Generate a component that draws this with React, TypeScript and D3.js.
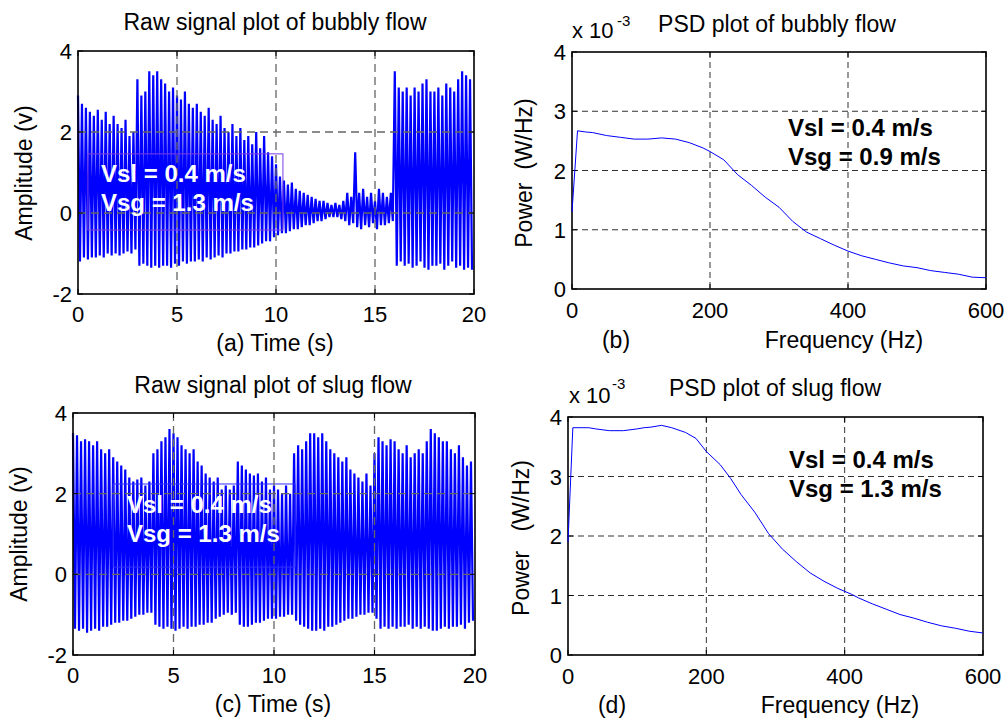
import * as d3 from "d3";
import { useEffect, useRef } from "react";

// raw traces: one peak and one trough per TIME_STEP
const TIME_STEP = 0.2;

const BUBBLY_PEAKS = [
  2.9, 2.7, 2.6, 2.5, 2.4, 2.55, 2.3, 2.5, 2.2, 2.4,
  2.2, 2.1, 2.3, 1.9, 2.0, 3.3, 2.9, 3.0, 3.5, 3.4,
  3.5, 3.3, 3.2, 3.0, 3.1, 2.9, 2.8, 3.0, 2.7, 2.6,
  2.7, 2.5, 2.4, 2.6, 2.3, 2.2, 2.4, 2.1, 2.0, 2.2,
  1.9, 2.1, 1.8, 1.9, 1.7, 2.0, 1.6, 1.9, 1.5, 1.4,
  1.2, 0.9, 0.8, 0.7, 0.75, 0.6, 0.55, 0.5, 0.45, 0.4,
  0.35, 0.3, 0.3, 0.25, 0.2, 0.25, 0.2, 0.3, 0.5, 0.4,
  1.5, 0.5, 0.6, 0.4, 0.5, 0.3, 0.6, 0.5, 0.4, 0.5,
  3.5, 3.1, 3.0, 3.1, 2.9, 3.1, 3.0, 3.2, 3.3, 3.0,
  3.0, 3.1, 2.9, 3.2, 3.1, 3.0, 3.3, 3.5, 3.4, 3.3,
];
const BUBBLY_TROUGHS = [
  -1.2, -1.1, -1.15, -1.1, -1.1, -1.05, -1.1, -1.0, -1.05, -1.0,
  -1.05, -1.0, -0.95, -1.0, -0.9, -1.3, -1.25, -1.3, -1.35, -1.3,
  -1.35, -1.3, -1.3, -1.35, -1.25, -1.3, -1.2, -1.25, -1.2, -1.2,
  -1.15, -1.2, -1.1, -1.15, -1.1, -1.05, -1.1, -1.0, -1.0, -0.95,
  -0.95, -0.9, -0.9, -0.85, -0.85, -0.8, -0.75, -0.7, -0.7, -0.6,
  -0.55, -0.5, -0.5, -0.45, -0.4, -0.4, -0.35, -0.3, -0.3, -0.25,
  -0.2, -0.2, -0.15, -0.1, -0.1, -0.1, -0.15, -0.2, -0.3, -0.25,
  -0.35, -0.4, -0.3, -0.35, -0.25, -0.4, -0.3, -0.3, -0.25, -0.2,
  -1.3, -1.2, -1.3, -1.25, -1.35, -1.3, -1.2, -1.35, -1.4, -1.3,
  -1.3, -1.25, -1.4, -1.3, -1.2, -1.35, -1.3, -1.4, -1.35, -1.4,
];

const SLUG_PEAKS = [
  3.5, 3.45, 3.3, 3.35, 3.3, 3.2, 3.3, 3.1, 3.0, 3.1,
  2.9, 2.8, 2.7, 2.6, 2.4, 2.3, 2.35, 2.4, 2.2, 2.3,
  3.0, 3.1, 3.3, 3.4, 3.6, 3.5, 3.4, 3.2, 3.1, 3.0,
  3.1, 2.8, 2.7, 2.5, 2.4, 2.3, 2.4, 2.1, 2.2, 2.1,
  2.2, 2.8, 2.7, 2.6, 2.5, 2.45, 2.5, 2.3, 2.4, 2.1,
  2.2, 2.1, 2.0, 2.2, 2.0, 3.0, 3.2, 3.1, 3.3, 3.5,
  3.5, 3.4, 3.5, 3.3, 3.1, 3.0, 2.9, 2.8, 2.9, 2.6,
  2.5, 2.4, 2.3, 2.5, 2.2, 3.0, 3.4, 3.3, 3.2, 3.35,
  3.3, 3.1, 3.0, 3.2, 2.9, 3.0, 3.1, 3.0, 3.3, 3.6,
  3.5, 3.4, 3.3, 3.3, 3.1, 3.0, 3.2, 2.9, 2.7, 2.8,
];
const SLUG_TROUGHS = [
  -1.35, -1.4, -1.35, -1.45, -1.4, -1.35, -1.4, -1.3, -1.3, -1.25,
  -1.2, -1.2, -1.15, -1.15, -1.1, -1.05, -1.0, -1.0, -0.95, -0.95,
  -1.25, -1.3, -1.35, -1.3, -1.35, -1.4, -1.35, -1.3, -1.35, -1.3,
  -1.3, -1.25, -1.25, -1.2, -1.2, -1.1, -1.05, -1.0, -0.95, -1.0,
  -0.95, -1.25, -1.3, -1.3, -1.25, -1.2, -1.2, -1.15, -1.1, -1.1,
  -1.1, -1.05, -1.05, -1.0, -1.0, -1.15, -1.25, -1.3, -1.35, -1.4,
  -1.4, -1.35, -1.4, -1.3, -1.3, -1.25, -1.2, -1.15, -1.1, -1.1,
  -1.05, -1.0, -1.0, -0.95, -0.95, -1.1, -1.35, -1.3, -1.35, -1.3,
  -1.35, -1.3, -1.3, -1.25, -1.35, -1.3, -1.35, -1.3, -1.35, -1.4,
  -1.4, -1.35, -1.3, -1.35, -1.3, -1.3, -1.25, -1.35, -1.2, -1.15,
];

// PSD curves, power in units of 1e-3 W/Hz
const BUBBLY_FREQ = [0, 8, 20, 30, 50, 70, 90, 110, 130, 150, 170, 190, 200, 220, 240, 260, 280, 300, 320, 340, 360, 380, 400, 420, 440, 460, 480, 500, 520, 540, 560, 580, 600];
const BUBBLY_PSD = [1.3, 2.67, 2.65, 2.64, 2.59, 2.56, 2.53, 2.53, 2.55, 2.53, 2.47, 2.38, 2.32, 2.18, 1.93, 1.75, 1.55, 1.38, 1.14, 0.96, 0.85, 0.74, 0.64, 0.56, 0.5, 0.44, 0.39, 0.36, 0.31, 0.28, 0.25, 0.2, 0.19];

const SLUG_FREQ = [0, 7, 30, 40, 60, 80, 100, 110, 120, 135, 150, 170, 185, 200, 220, 235, 250, 270, 290, 310, 330, 350, 370, 390, 410, 420, 440, 460, 480, 500, 520, 540, 560, 580, 600];
const SLUG_PSD = [1.9, 3.82, 3.82, 3.8, 3.77, 3.77, 3.8, 3.82, 3.83, 3.86, 3.82, 3.74, 3.64, 3.42, 3.2, 2.97, 2.7, 2.4, 2.04, 1.78, 1.57, 1.38, 1.24, 1.12, 1.02, 0.96, 0.86, 0.77, 0.68, 0.62, 0.55, 0.49, 0.45, 0.4, 0.37];

const TIME_TICKS = [0, 5, 10, 15, 20];
const AMP_TICKS = [-2, 0, 2, 4];
const FREQ_TICKS = [0, 200, 400, 600];
const PSD_TICKS = [0, 1, 2, 3, 4];

const FONT = "'Liberation Sans', Arial, Helvetica, sans-serif";
const LABEL = 23;
const TICK = 22;
const NOTE = 24;

type Sel = d3.Selection<SVGGElement, unknown, null, undefined>;
type Box = { left: number; right: number; top: number; bottom: number };

function addText(
  g: Sel,
  x: number,
  y: number,
  str: string,
  opts: { size?: number; anchor?: string; weight?: string; fill?: string; rotate?: boolean } = {},
) {
  const t = g
    .append("text")
    .attr("x", x)
    .attr("y", y)
    .attr("text-anchor", opts.anchor ?? "middle")
    .attr("font-family", FONT)
    .attr("font-size", opts.size ?? LABEL)
    .attr("font-weight", opts.weight ?? "normal")
    .attr("fill", opts.fill ?? "#000")
    .text(str);
  if (opts.rotate) t.attr("transform", `rotate(-90,${x},${y})`);
  return t;
}

function drawFrame(
  g: Sel,
  x: d3.ScaleLinear<number, number>,
  y: d3.ScaleLinear<number, number>,
  xTicks: number[],
  yTicks: number[],
  grid: { color: string; dash: string; width: number },
  xLabelDy: number,
) {
  const [x0, x1] = x.range();
  const [y0, y1] = y.range(); // y0 = bottom
  const gl = g.append("g");
  xTicks.slice(1, -1).forEach((t) =>
    gl.append("line")
      .attr("x1", x(t)).attr("x2", x(t)).attr("y1", y1).attr("y2", y0)
      .attr("stroke", grid.color).attr("stroke-width", grid.width)
      .attr("stroke-dasharray", grid.dash),
  );
  yTicks.slice(1, -1).forEach((t) =>
    gl.append("line")
      .attr("x1", x0).attr("x2", x1).attr("y1", y(t)).attr("y2", y(t))
      .attr("stroke", grid.color).attr("stroke-width", grid.width)
      .attr("stroke-dasharray", grid.dash),
  );

  const tk = 5;
  xTicks.forEach((t) => {
    g.append("line").attr("x1", x(t)).attr("x2", x(t)).attr("y1", y0).attr("y2", y0 - tk).attr("stroke", "#000");
    g.append("line").attr("x1", x(t)).attr("x2", x(t)).attr("y1", y1).attr("y2", y1 + tk).attr("stroke", "#000");
    addText(g, x(t), y0 + xLabelDy, `${t}`, { size: TICK });
  });
  yTicks.forEach((t) => {
    g.append("line").attr("x1", x0).attr("x2", x0 + tk).attr("y1", y(t)).attr("y2", y(t)).attr("stroke", "#000");
    g.append("line").attr("x1", x1).attr("x2", x1 - tk).attr("y1", y(t)).attr("y2", y(t)).attr("stroke", "#000");
    addText(g, x0 - 6, y(t) + 8, `${t}`, { anchor: "end", size: TICK });
  });

  g.append("rect")
    .attr("x", x0).attr("y", y1)
    .attr("width", x1 - x0).attr("height", y0 - y1)
    .attr("fill", "none").attr("stroke", "#000").attr("stroke-width", 1.6);
}

function drawSignal(
  g: Sel,
  b: Box,
  peaks: number[],
  troughs: number[],
  boxColor: string,
  note: { x0: number; x1: number; y0: number; y1: number },
) {
  const x = d3.scaleLinear().domain([0, 20]).range([b.left, b.right]);
  const y = d3.scaleLinear().domain([-2, 4]).range([b.bottom, b.top]);

  const pts: [number, number][] = [];
  peaks.forEach((p, i) => {
    pts.push([i * TIME_STEP, p]);
    pts.push([i * TIME_STEP + TIME_STEP / 2, troughs[i]]);
  });
  const line = d3.line<[number, number]>().x((d) => x(d[0])).y((d) => y(d[1]));

  g.append("path")
    .datum(pts)
    .attr("d", line)
    .attr("fill", "none")
    .attr("stroke", "#0000ff")
    .attr("stroke-width", 2.2)
    .attr("stroke-linejoin", "miter")
    .attr("stroke-miterlimit", 1);

  // text-box edge behind the annotation
  g.append("rect")
    .attr("x", x(note.x0)).attr("y", y(note.y1))
    .attr("width", x(note.x1) - x(note.x0))
    .attr("height", y(note.y0) - y(note.y1))
    .attr("fill", "none").attr("stroke", boxColor).attr("stroke-width", 1);

  drawFrame(g, x, y, TIME_TICKS, AMP_TICKS, { color: "#666", dash: "8,5", width: 1.3 }, 28);
}

function drawPsd(g: Sel, b: Box, freq: number[], psd: number[]) {
  const x = d3.scaleLinear().domain([0, 600]).range([b.left, b.right]);
  const y = d3.scaleLinear().domain([0, 4]).range([b.bottom, b.top]);
  const line = d3.line<number>().x((_, i) => x(freq[i])).y((d) => y(d));

  drawFrame(g, x, y, FREQ_TICKS, PSD_TICKS, { color: "#333", dash: "6,4", width: 1 }, 29);

  g.append("path")
    .datum(psd)
    .attr("d", line)
    .attr("fill", "none")
    .attr("stroke", "#0000ff")
    .attr("stroke-width", 1);
}

function exponent(g: Sel, x: number, y: number, supX: number, supY: number) {
  addText(g, x, y, "x 10", { anchor: "start", size: TICK });
  addText(g, supX, supY, "-3", { anchor: "start", size: 15 });
}

export default function App() {
  const ref = useRef<SVGSVGElement>(null);

  useEffect(() => {
    const svg = d3.select(ref.current);
    svg.selectAll("*").remove();
    const root = svg.append("g") as unknown as Sel;

    // (a) raw bubbly
    const a = root.append("g");
    const boxA = { left: 78, right: 474, top: 51, bottom: 294 };
    drawSignal(a, boxA, BUBBLY_PEAKS, BUBBLY_TROUGHS, "#7a3de0", { x0: 0.5, x1: 10.35, y0: -0.42, y1: 1.46 });
    addText(a, 101, 182, "Vsl = 0.4 m/s", { anchor: "start", weight: "bold", fill: "#fff", size: NOTE });
    addText(a, 101, 211, "Vsg = 1.3 m/s", { anchor: "start", weight: "bold", fill: "#fff", size: NOTE });
    addText(a, 275, 30, "Raw signal plot of bubbly flow");
    addText(a, 275, 351, "(a) Time (s)");
    addText(a, 32, 173, "Amplitude (v)", { rotate: true });

    // (b) PSD bubbly
    const bG = root.append("g");
    const boxB = { left: 572, right: 986, top: 52, bottom: 289 };
    drawPsd(bG, boxB, BUBBLY_FREQ, BUBBLY_PSD);
    addText(bG, 788, 136, "Vsl = 0.4 m/s", { anchor: "start", weight: "bold", size: NOTE });
    addText(bG, 788, 165, "Vsg = 0.9 m/s", { anchor: "start", weight: "bold", size: NOTE });
    addText(bG, 777, 32, "PSD plot of bubbly flow");
    exponent(bG, 572, 38, 617, 26);
    addText(bG, 616, 348, "(b)");
    addText(bG, 844, 348, "Frequency (Hz)");
    addText(bG, 532, 173, "Power\u00a0\u00a0(W/Hz)", { rotate: true });

    // (c) raw slug
    const c = root.append("g");
    const boxC = { left: 73, right: 475, top: 413, bottom: 655 };
    drawSignal(c, boxC, SLUG_PEAKS, SLUG_TROUGHS, "#3030ff", { x0: 2.0, x1: 11.05, y0: 0.18, y1: 2.24 });
    addText(c, 127, 513, "Vsl = 0.4 m/s", { anchor: "start", weight: "bold", fill: "#fff", size: NOTE });
    addText(c, 127, 542, "Vsg = 1.3 m/s", { anchor: "start", weight: "bold", fill: "#fff", size: NOTE });
    addText(c, 273, 393, "Raw signal plot of slug flow");
    addText(c, 273, 712, "(c) Time (s)");
    addText(c, 27, 534, "Amplitude (v)", { rotate: true });

    // (d) PSD slug
    const dG = root.append("g");
    const boxD = { left: 568, right: 983, top: 417, bottom: 655 };
    drawPsd(dG, boxD, SLUG_FREQ, SLUG_PSD);
    addText(dG, 789, 468, "Vsl = 0.4 m/s", { anchor: "start", weight: "bold", size: NOTE });
    addText(dG, 789, 497, "Vsg = 1.3 m/s", { anchor: "start", weight: "bold", size: NOTE });
    addText(dG, 775, 396, "PSD plot of slug flow");
    exponent(dG, 569, 403, 612, 389);
    addText(dG, 612, 713, "(d)");
    addText(dG, 840, 713, "Frequency (Hz)");
    addText(dG, 529, 538, "Power\u00a0\u00a0\u00a0(W/Hz)", { rotate: true });
  }, []);

  return (
    <svg
      ref={ref}
      width={1008}
      height={720}
      style={{ position: "absolute", left: 0, top: 0, background: "#fff", display: "block" }}
    />
  );
}
